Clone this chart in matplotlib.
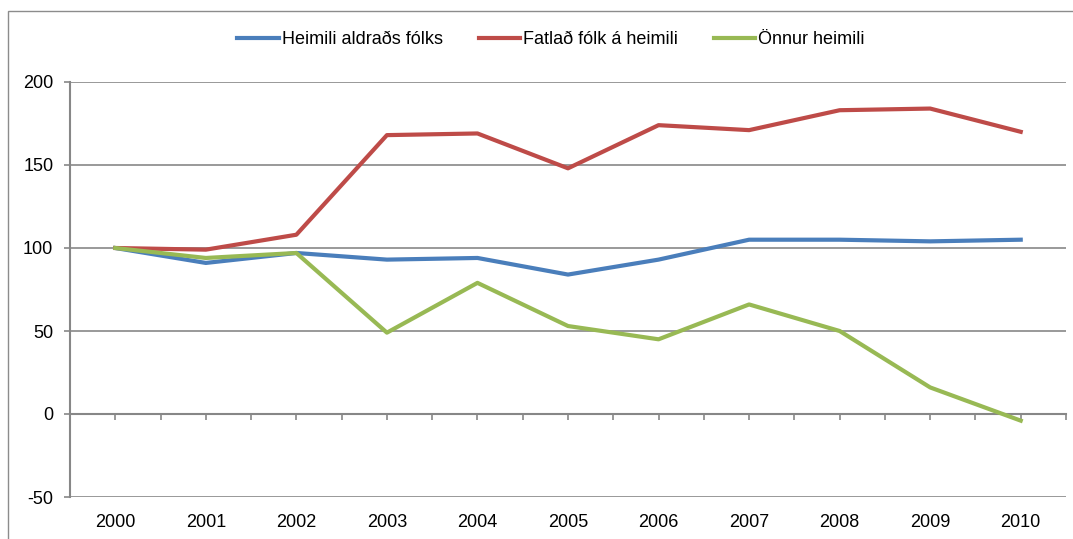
import matplotlib.pyplot as plt
from matplotlib.patches import Rectangle

# values (index, 2000 = 100)
years = ['2000', '2001', '2002', '2003', '2004', '2005', '2006', '2007', '2008', '2009', '2010']
aldradra = [100, 91, 97, 93, 94, 84, 93, 105, 105, 104, 105]
fatlad = [100, 99, 108, 168, 169, 148, 174, 171, 183, 184, 170]
onnur = [100, 94, 97, 49, 79, 53, 45, 66, 50, 16, -4]

series_names = ['Heimili aldraðs fólks', 'Fatlað fólk á heimili', 'Önnur heimili']
colors = ['#4A7EBB', '#BE4B48', '#98B954']

plt.rcParams['font.family'] = ['Liberation Sans', 'DejaVu Sans']
plt.rcParams['axes.unicode_minus'] = False
grey = '#878787'
fs = 13

fig = plt.figure(figsize=(10.73, 5.39), dpi=100)
ax = fig.add_axes([70 / 1073, 1 - 497 / 539, 996 / 1073, 415 / 539])

x = list(range(len(years)))
for vals, name, col in zip([aldradra, fatlad, onnur], series_names, colors):
    ax.plot(x, vals, color=col, lw=3.0, label=name)

ax.set_xlim(-0.5, len(years) - 0.5)
ax.set_ylim(-50, 200)
ax.set_yticks([-50, 0, 50, 100, 150, 200])
ax.yaxis.grid(True, color=grey, lw=1.2)
ax.set_axisbelow(True)

ax.set_xticks(x)
ax.set_xticklabels(years)
ax.tick_params(axis='x', length=0, pad=12, labelsize=fs)
ax.tick_params(axis='y', length=4, width=1.2, color=grey, pad=8, labelsize=fs)

for s in ['top', 'right', 'bottom']:
    ax.spines[s].set_visible(False)
ax.spines['left'].set_color(grey)
ax.spines['left'].set_linewidth(1.5)

# category axis sits on the zero line, with ticks every half step
zero = ax.secondary_xaxis(0.2)
zero.set_xticks([i * 0.5 - 0.5 for i in range(2 * len(years) + 1)])
zero.set_xticklabels([])
zero.tick_params(axis='x', direction='out', length=4, width=1.2, color=grey)
zero.spines['bottom'].set_color(grey)
zero.spines['bottom'].set_linewidth(1.5)

fig.legend(loc='center', bbox_to_anchor=(551 / 1073, 1 - 40 / 539), ncol=3,
           frameon=False, fontsize=fs, handlelength=2.3, handletextpad=0.15,
           columnspacing=2.0)

fig.add_artist(Rectangle((8 / 1073, -0.1), 1.2, (539 - 11) / 539 + 0.1,
                         transform=fig.transFigure, fill=False,
                         edgecolor='#8c8c8c', lw=1))

fig.savefig('out.png', dpi=100)
